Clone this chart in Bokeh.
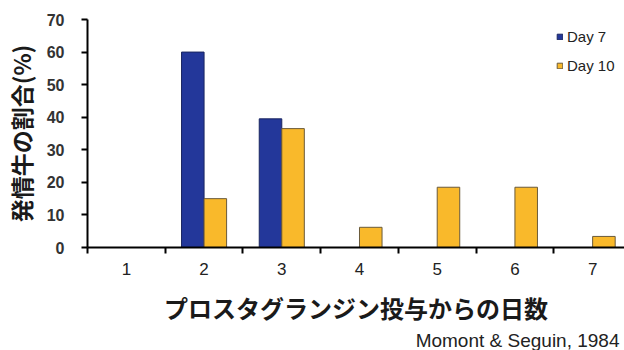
from bokeh.plotting import figure
from bokeh.models import FixedTicker, Legend, LegendItem, Title, ColumnDataSource, Range1d
from bokeh.transform import dodge
from bokeh.embed import file_html
from bokeh.resources import INLINE

days = [1, 2, 3, 4, 5, 6, 7]
tick_labels = ["1", "2", "3", "4", "5", "6", "7"]
day7 = [0, 60, 39.5, 0, 0, 0, 0]
day10 = [0, 15, 36.5, 6.2, 18.5, 18.5, 3.4]
series_names = ["Day 7", "Day 10"]
colors = ["#23379a", "#f9b92b"]

src = ColumnDataSource(dict(x=days, d7=day7, d10=day10))

p = figure(width=624, height=350, output_backend="svg", toolbar_location=None,
           x_range=Range1d(0.5, 7.41), y_range=Range1d(0, 70),
           min_border_left=83, min_border_right=0, min_border_top=19, min_border_bottom=0)
p.outline_line_color = None
p.xgrid.visible = False
p.ygrid.visible = False
p.background_fill_color = "white"
p.border_fill_color = "white"

bw = 0.29
r7 = p.vbar(x=dodge("x", -bw / 2, range=p.x_range), top="d7", width=bw, source=src,
            fill_color=colors[0], line_color="#1a2660", line_width=1)
r10 = p.vbar(x=dodge("x", bw / 2, range=p.x_range), top="d10", width=bw, source=src,
             fill_color=colors[1], line_color="#6a5a3a", line_width=1)

jp = "Noto Sans CJK JP"
num = "Liberation Sans"

cite = Title(text="Momont & Seguin, 1984", align="right", offset=5, standoff=0,
             text_font=num, text_font_size="19px", text_font_style="normal",
             text_color="#222222")
p.add_layout(cite, "below")

# x axis
xa = p.xaxis[0]
xa.ticker = FixedTicker(ticks=days, minor_ticks=[d - 0.5 for d in days] + [7.5])
xa.major_label_overrides = {d: t for d, t in zip(days, tick_labels)}
xa.major_tick_out = 0
xa.major_tick_in = 0
xa.minor_tick_out = 6
xa.minor_tick_in = 0
xa.minor_tick_line_color = "black"
xa.minor_tick_line_width = 2
xa.axis_line_color = "black"
xa.axis_line_width = 2
xa.major_label_text_font = num
xa.major_label_text_font_size = "17px"
xa.major_label_text_color = "#222222"
xa.major_label_standoff = 9
xa.axis_label = "プロスタグランジン投与からの日数"
xa.axis_label_text_font = jp
xa.axis_label_text_font_style = "bold"
xa.axis_label_text_font_size = "24px"
xa.axis_label_text_color = "#1a1a1a"
xa.axis_label_standoff = 12

# y axis
ya = p.yaxis[0]
ya.ticker = FixedTicker(ticks=[0, 10, 20, 30, 40, 50, 60, 70], minor_ticks=[])
ya.major_tick_out = 6
ya.major_tick_in = 0
ya.major_tick_line_color = "black"
ya.major_tick_line_width = 2
ya.axis_line_color = "black"
ya.axis_line_width = 2
ya.major_label_text_font = num
ya.major_label_text_font_style = "bold"
ya.major_label_text_font_size = "16px"
ya.major_label_text_color = "#333333"
ya.major_label_standoff = 17
ya.axis_label = "発情牛の割合(%)"
ya.axis_label_text_font = jp
ya.axis_label_text_font_style = "bold"
ya.axis_label_text_font_size = "23px"
ya.axis_label_text_color = "#1a1a1a"
ya.axis_label_standoff = 6

legend = Legend(items=[LegendItem(label=series_names[0], renderers=[r7]),
                       LegendItem(label=series_names[1], renderers=[r10])],
                location=(469, 172), padding=0, margin=0, spacing=9,
                glyph_width=7, glyph_height=7, label_standoff=4,
                label_text_font=num, label_text_font_size="15px",
                label_text_color="#222222", label_height=20,
                border_line_color=None, background_fill_alpha=0)
p.add_layout(legend, "center")

open("out.html", "w").write(file_html(p, INLINE))
